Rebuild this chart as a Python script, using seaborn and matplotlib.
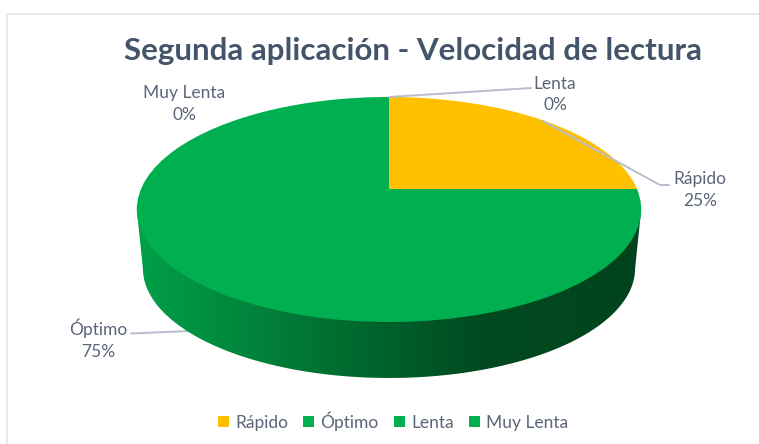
import numpy as np
import matplotlib
matplotlib.use("Agg")
import matplotlib.pyplot as plt
import seaborn as sns
from matplotlib.colors import LinearSegmentedColormap
from matplotlib.patches import Polygon
from matplotlib.transforms import Transform

categorias = ['Rápido', 'Óptimo', 'Lenta', 'Muy Lenta']
valores = [25, 75, 0, 0]
colores = ['#FFC000', '#00B050', '#00B050', '#00B050']
titulo = 'Segunda aplicación - Velocidad de lectura'

sns.set_theme(style='white')
plt.rcParams['font.family'] = ['Lato', 'DejaVu Sans']

COLOR_TEXTO = '#5B6579'
COLOR_GUIA = '#B7BECC'


# circulo unitario del pie -> elipse con perspectiva
class Perspectiva(Transform):
    input_dims = 2
    output_dims = 2

    def __init__(self, cx, cy, rx, ry, k):
        super().__init__()
        self.cx, self.cy, self.rx, self.ry, self.k = cx, cy, rx, ry, k

    def transform_non_affine(self, xy):
        xy = np.asarray(xy, dtype=float)
        w = 1 + self.k * xy[:, 1]
        return np.column_stack((self.cx + self.rx * xy[:, 0] / w, self.cy - self.ry * xy[:, 1] / w))


fig = plt.figure(figsize=(7.59, 4.44), dpi=100)
ax = fig.add_axes([0, 0, 1, 1])

wedges, _ = ax.pie(valores, colors=colores, startangle=90, counterclock=False,
                   wedgeprops={'linewidth': 0}, labels=None)
ax.set_aspect('auto')
ax.set_xlim(0, 759)
ax.set_ylim(444, 0)

K = 0.182
arriba = Perspectiva(389, 189, 248, 108.8, K)
abajo = Perspectiva(389, 248.4, 242, 106, K)
for w in wedges:
    w.set_transform(arriba + ax.transData)
    w.set_zorder(3)

# pared lateral con degradado
t0 = np.arcsin(K)
t = np.linspace(np.pi + t0, 2 * np.pi - t0, 200)
circulo = np.column_stack((np.cos(t), np.sin(t)))
pared = np.vstack((arriba.transform(circulo[:1]), abajo.transform(circulo), arriba.transform(circulo[-1:])))
cmap = LinearSegmentedColormap.from_list('pared', [(0, '#00A048'), (0.68, '#004A20'), (1, '#00431D')])
im = ax.imshow(np.linspace(0, 1, 256).reshape(1, -1), cmap=cmap, extent=(137, 641, 400, 190),
               aspect='auto', zorder=2)
im.set_clip_path(Polygon(pared, transform=ax.transData))
ax.set_xlim(0, 759)
ax.set_ylim(444, 0)

# lineas guia
ax.plot([190, 131], [331, 333.5], color=COLOR_GUIA, lw=1.4, zorder=1)
ax.plot([389, 531], [97, 88], color=COLOR_GUIA, lw=1.4, zorder=4)
ax.plot([543, 660, 669], [121, 185, 185], color=COLOR_GUIA, lw=1.4, zorder=4)

# etiquetas
pos_etiquetas = [(700, 190), (98, 339), (555, 94.5), (184, 104)]
for cat, val, (x, y) in zip(categorias, valores, pos_etiquetas):
    ax.text(x, y, f'{cat}\n{val}%', ha='center', va='center', fontsize=12.5,
            color=COLOR_TEXTO, linespacing=1.45, zorder=5)

ax.text(413, 51, titulo, ha='center', va='center', fontsize=22.6, fontweight='bold', color='#44546A')

# marco del grafico
ax.plot([6.5, 6.5, 759], [444, 14.5, 14.5], color='#E1E5EA', lw=1.2, zorder=0)

ley = fig.legend(wedges, categorias, loc='center', bbox_to_anchor=(393 / 759, 1 - 421 / 444), ncol=4,
                 frameon=False, fontsize=12.5, handlelength=0.65, handleheight=0.65,
                 handletextpad=0.35, columnspacing=0.87, borderpad=0)
for txt in ley.get_texts():
    txt.set_color(COLOR_TEXTO)

ax.axis('off')
fig.savefig('out.png', dpi=100)
